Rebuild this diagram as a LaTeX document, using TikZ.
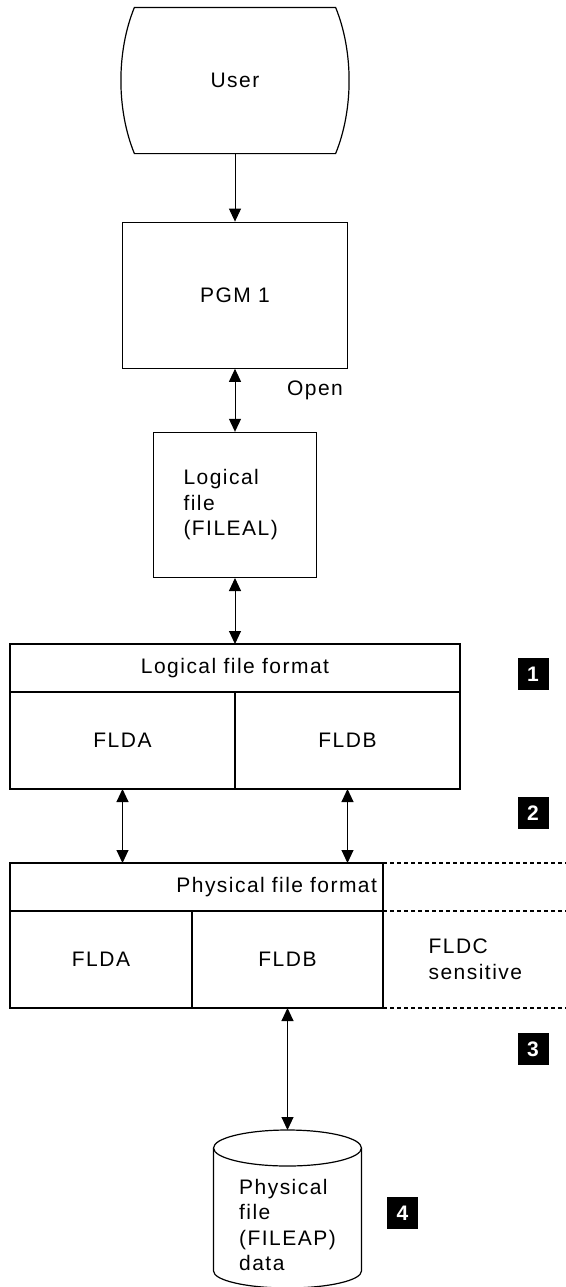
\documentclass[tikz,border=0pt]{standalone}
\usepackage{fontspec}
\setmainfont{Liberation Sans}[LetterSpace=7]
\usetikzlibrary{positioning,arrows.meta,calc}

\begin{document}
\begin{tikzpicture}[
    node distance=34pt,
    line width=0.6pt,
    box/.style={draw, inner sep=0pt, font=\fontsize{10.5}{12.8}\selectfont},
    cell/.style={draw, outer sep=0pt, inner sep=0pt, font=\fontsize{10.5}{12.8}\selectfont},
    txt/.style={inner sep=0pt, font=\fontsize{10.5}{12.8}\selectfont},
    badge/.style={fill=black, text=white, minimum width=15.5pt, minimum height=16pt, inner sep=0pt, font=\fontsize{10.5}{12}\selectfont\bfseries},
    feed/.style={line width=0.5pt, -{Triangle[length=6.5pt,width=6pt]}},
    link/.style={line width=0.5pt, {Triangle[length=6.5pt,width=6pt]}-{Triangle[length=6.5pt,width=6pt]}},
    rim/.style={line width=0.6pt, dash pattern=on 2pt off 1.5pt},
]
\useasboundingbox (0,0) rectangle (283pt,-643.5pt);
\coordinate (edge) at (283pt,0);

% program side
\node[box, draw=none, minimum width=100pt, minimum height=72.5pt] (user) at (117.5pt,-40.25pt) {User};
\draw (user.north west) -- (user.north east)
  .. controls ($(user.north east)+(9pt,-22pt)$) and ($(user.south east)+(9pt,22pt)$) .. (user.south east)
  -- (user.south west)
  .. controls ($(user.south west)+(-9pt,22pt)$) and ($(user.north west)+(-9pt,-22pt)$) .. cycle;
\node[box, minimum width=112.5pt, minimum height=73pt, below=34pt of user] (pgm) {PGM 1};
\node[box, minimum height=72.5pt, text width=51.5pt, inner xsep=15pt, align=left, below=31.5pt of pgm] (lfile) {Logical\\file\\(FILEAL)};
\node[txt] (open) at (157.5pt,-195pt) {Open};

% logical file format
\node[cell, minimum width=225pt, minimum height=24pt, below=33pt of lfile] (lhead) {Logical file format};
\node[cell, minimum width=112.5pt, minimum height=48.5pt, below right=0pt of lhead.south west] (lfa) {FLDA};
\node[cell, minimum width=112.5pt, minimum height=48.5pt, right=0pt of lfa] (lfb) {FLDB};

% physical file format
\node[cell, minimum height=24pt, text width=180.5pt, inner xsep=3pt, align=right, below right=37pt and 0pt of lfa.south west] (phead) {Physical file format};
\node[cell, minimum width=91pt, minimum height=48.5pt, below right=0pt of phead.south west] (pfa) {FLDA};
\node[cell, minimum width=95.5pt, minimum height=48.5pt, right=0pt of pfa] (pfb) {FLDB};
\node[txt, align=left, right=22.5pt of pfb] (fldc) {FLDC\\sensitive};

\draw[feed] (user) -- (pgm);
\draw[link] (pgm) -- (lfile);
\draw[link] (lfile) -- (lhead);
\draw[link] (lfa.south) -- (lfa.south |- phead.north);
\draw[link] (lfb.south) -- (lfb.south |- phead.north);

\draw[rim] (phead.north east) -- (phead.north east -| edge);
\draw[rim] (phead.south east) -- (phead.south east -| edge);
\draw[rim] (pfb.south east) -- (pfb.south east -| edge);

% data
\coordinate[below=61pt of pfb] (ptop);
\draw ($(ptop)+(0,-9pt)$) ellipse[x radius=37pt, y radius=9pt];
\draw ($(ptop)+(-37pt,-9pt)$) -- ++(0,-61.5pt)
  arc[start angle=180, end angle=360, x radius=37pt, y radius=8.5pt] -- ++(0,61.5pt);
\node[txt, align=left] (pfile) at ($(ptop)+(0,-47.5pt)$) {Physical\\file\\(FILEAP)\\data};
\draw[link] (pfb) -- (ptop);

% callouts
\node[badge] (n1) at (266.5pt,-337pt) {1};
\node[badge] (n2) at (266.5pt,-406.5pt) {2};
\node[badge] (n3) at (266.5pt,-524.5pt) {3};
\node[badge] (n4) at (201.25pt,-606.5pt) {4};
\end{tikzpicture}
\end{document}
